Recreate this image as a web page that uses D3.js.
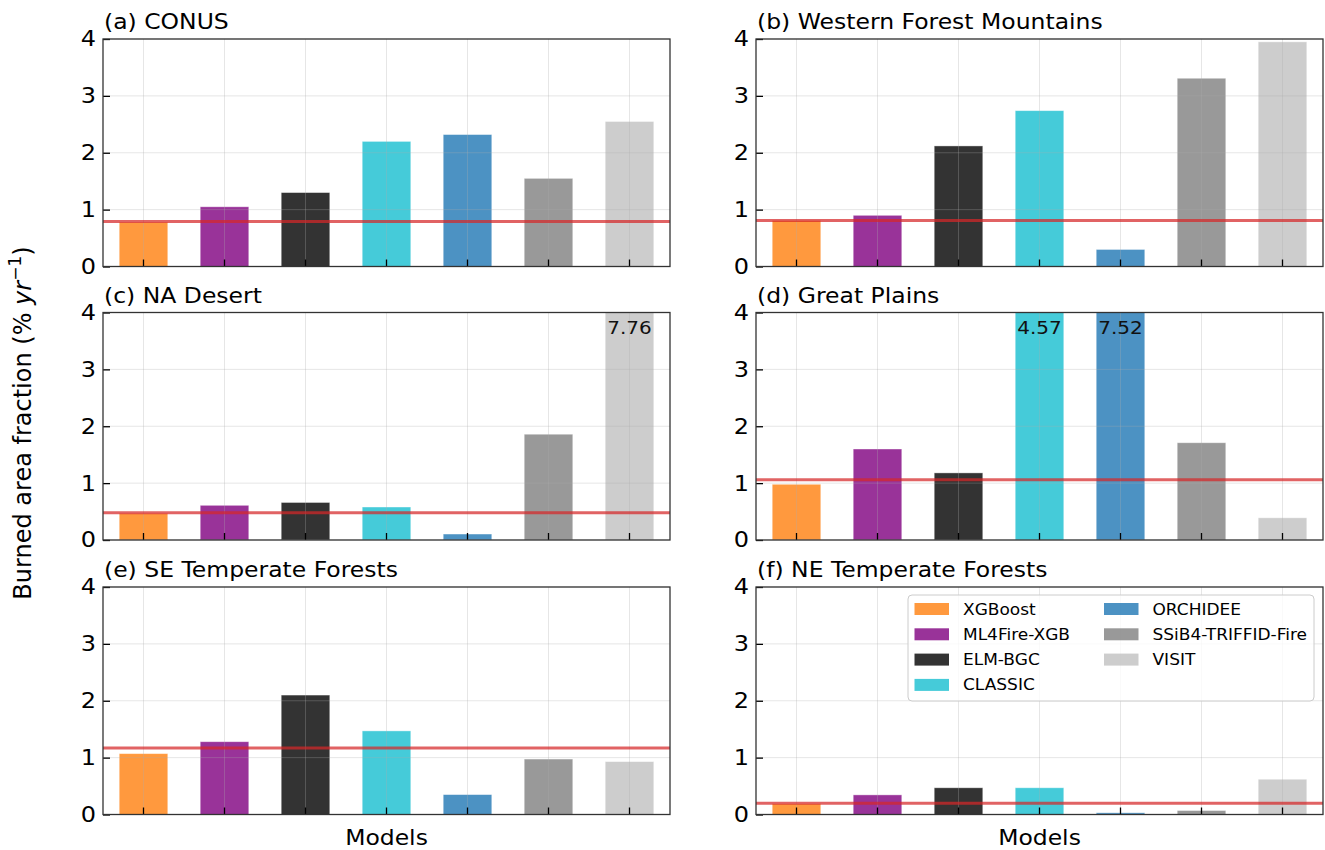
<!DOCTYPE html>
<html>
<head>
<meta charset="utf-8">
<script src="https://cdn.jsdelivr.net/npm/d3@7"></script>
<style>
  html, body { margin: 0; padding: 0; background: #fff; }
  svg { display: block; font-family: "DejaVu Sans", sans-serif; }
</style>
</head>
<body>
<svg id="chart" width="1325" height="850"></svg>
<script>
// Models compared in every region
const models = ["XGBoost", "ML4Fire-XGB", "ELM-BGC", "CLASSIC", "ORCHIDEE", "SSiB4-TRIFFID-Fire", "VISIT"];
const modelColors = ["#ff7f0e", "#800080", "#000000", "#17becf", "#1f77b4", "#808080", "#c0c0c0"];

// Region panels
const panelTitles = ["(a) CONUS", "(b) Western Forest Mountains", "(c) NA Desert",
                     "(d) Great Plains", "(e) SE Temperate Forests", "(f) NE Temperate Forests"];

// Mean burned area fraction (% per year) for each model, one array per region
const conus    = [0.78, 1.05, 1.30, 2.20, 2.32, 1.55, 2.55];
const westMtn  = [0.81, 0.90, 2.12, 2.74, 0.30, 3.31, 3.95];
const naDesert = [0.47, 0.61, 0.66, 0.58, 0.105, 1.86, 7.76];
const plains   = [0.98, 1.60, 1.18, 4.57, 7.52, 1.71, 0.39];
const seForest = [1.07, 1.28, 2.10, 1.47, 0.35, 0.975, 0.93];
const neForest = [0.19, 0.345, 0.47, 0.47, 0.03, 0.07, 0.62];

// Observed burned area fraction per region (horizontal reference line)
const observed = [0.79, 0.81, 0.48, 1.06, 1.17, 0.20];

const yTicks = [0, 1, 2, 3, 4];
const yMax = 4;

const regionValues = [conus, westMtn, naDesert, plains, seForest, neForest];

// ---- layout ----
const W = 1325, H = 850;
const SQ = 0.9;                 // text is drawn slightly compressed vertically
const colX = [103, 756];
const panelW = 567;
const rowY = [39, 312.5, 587];
const panelH = 227.5;

const svg = d3.select("#chart");
svg.append("rect").attr("width", W).attr("height", H).attr("fill", "#fff");

function addText(parent, x, y, str, size, anchor) {
  return parent.append("text")
    .attr("transform", `translate(${x},${y}) scale(1,${SQ})`)
    .attr("font-size", size)
    .attr("text-anchor", anchor || "start")
    .attr("fill", "#000")
    .text(str);
}

regionValues.forEach((vals, i) => {
  const col = i % 2, row = Math.floor(i / 2);
  const x0 = colX[col], y0 = rowY[row];
  const g = svg.append("g");

  const x = d3.scaleBand().domain(models)
    .range([x0, x0 + panelW]).paddingInner(0.4).paddingOuter(0.2);
  const y = d3.scaleLinear().domain([0, yMax]).range([y0 + panelH, y0]).clamp(true);
  const half = x.bandwidth() / 2;

  // bars
  g.selectAll("rect.bar").data(vals).join("rect")
    .attr("class", "bar")
    .attr("x", (d, j) => x(models[j]))
    .attr("y", d => y(d))
    .attr("width", x.bandwidth())
    .attr("height", d => y(0) - y(d))
    .attr("fill", (d, j) => modelColors[j])
    .attr("fill-opacity", 0.8)
    .attr("stroke", "#fff")
    .attr("stroke-opacity", 0.5)
    .attr("stroke-width", 0.8);

  // grid (drawn over the bars, semi-transparent)
  const grid = g.append("g").attr("stroke", "#adadad").attr("stroke-opacity", 0.3).attr("stroke-width", 1);
  grid.selectAll("line.gy").data(yTicks).join("line")
    .attr("x1", x0).attr("x2", x0 + panelW)
    .attr("y1", d => y(d)).attr("y2", d => y(d));
  grid.selectAll("line.gx").data(models).join("line")
    .attr("x1", d => x(d) + half).attr("x2", d => x(d) + half)
    .attr("y1", y0).attr("y2", y0 + panelH);

  // observed reference line
  g.append("line")
    .attr("x1", x0).attr("x2", x0 + panelW)
    .attr("y1", y(observed[i])).attr("y2", y(observed[i]))
    .attr("stroke", "#d62728").attr("stroke-opacity", 0.72).attr("stroke-width", 3);

  // values beyond the axis range are written at the top of their bar
  vals.forEach((v, j) => {
    if (v > yMax) {
      addText(g, x(models[j]) + half, y0 + 21.5, v.toFixed(2), 20, "middle").attr("fill", "#111");
    }
  });

  // y axis with inward ticks
  const ya = g.append("g").attr("transform", `translate(${x0},0)`)
    .call(d3.axisLeft(y).tickValues(yTicks).tickSize(-7).tickPadding(7).tickFormat(d3.format("d")));
  ya.select(".domain").remove();
  ya.selectAll(".tick line").attr("stroke", "#000").attr("stroke-width", 1.3);
  ya.selectAll(".tick text")
    .attr("font-size", 24).attr("font-family", "DejaVu Sans")
    .attr("fill", "#000")
    .attr("transform", `scale(1,${SQ})`);

  // x axis: inward ticks only
  const xa = g.append("g").attr("transform", `translate(0,${y0 + panelH})`)
    .call(d3.axisBottom(x).tickSize(-7).tickFormat(""));
  xa.select(".domain").remove();
  xa.selectAll(".tick line").attr("stroke", "#000").attr("stroke-width", 1.3);

  // frame
  g.append("rect")
    .attr("x", x0).attr("y", y0).attr("width", panelW).attr("height", panelH)
    .attr("fill", "none").attr("stroke", "#333").attr("stroke-width", 1.3);

  // title
  addText(g, x0 + 1, y0 - 10, panelTitles[i], 23.5);

  // x label under the bottom row
  if (row === 2) {
    addText(g, x0 + panelW / 2, 845, "Models", 23.5, "middle");
  }

  // legend inside the last panel
  if (i === 5) {
    const lg = g.append("g");
    lg.append("rect")
      .attr("x", 908).attr("y", 595).attr("width", 406).attr("height", 106)
      .attr("rx", 4)
      .attr("fill", "#fff").attr("fill-opacity", 0.8)
      .attr("stroke", "#cccccc").attr("stroke-width", 1);
    const rowsPerCol = 4;
    const legX = [914.5, 1104];
    const legY0 = 609, legDy = 25.3;
    models.forEach((m, j) => {
      const c = Math.floor(j / rowsPerCol), r = j % rowsPerCol;
      const cy = legY0 + r * legDy;
      lg.append("rect")
        .attr("x", legX[c]).attr("y", cy - 6)
        .attr("width", 34.5).attr("height", 12)
        .attr("fill", modelColors[j]).attr("fill-opacity", 0.8);
      addText(lg, legX[c] + 48.5, cy, m, 17).attr("dy", "0.36em");
    });
  }
});

// shared y label
const yl = svg.append("text")
  .attr("transform", "translate(31,423) rotate(-90)")
  .attr("font-size", 24)
  .attr("text-anchor", "middle")
  .attr("fill", "#000");
yl.append("tspan").text("Burned area fraction (% ");
yl.append("tspan").attr("font-style", "italic").text("yr");
yl.append("tspan").attr("font-size", 17).attr("dy", "-0.6em").text("\u22121");
yl.append("tspan").attr("dy", "0.42em").text(")");
</script>
</body>
</html>
